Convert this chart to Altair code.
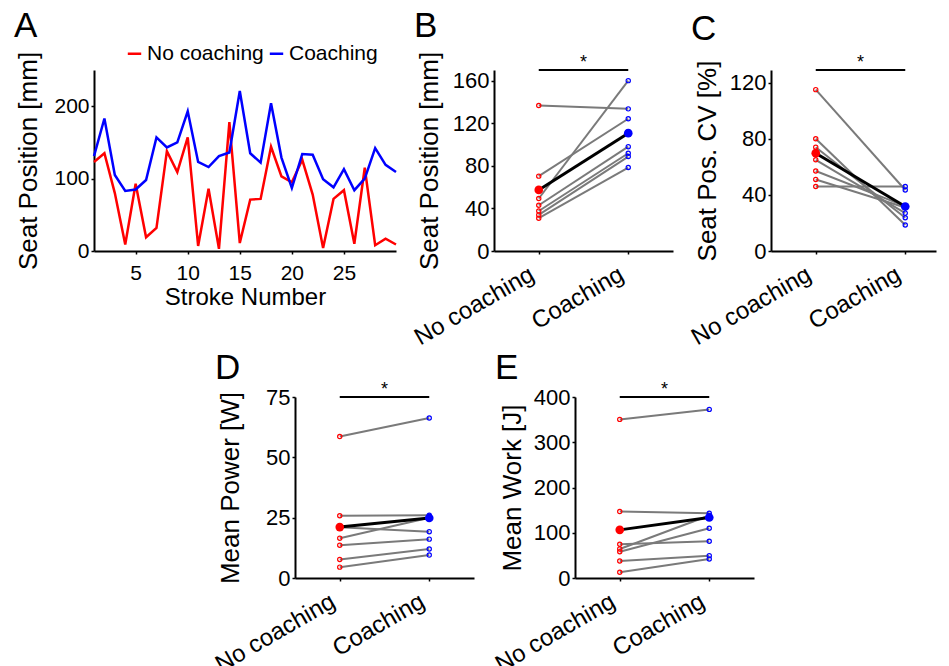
import altair as alt
import pandas as pd

FONT = "Liberation Sans"

# ---------------- data ----------------
strokes = list(range(1, 31))
no_coaching = [123, 135, 80, 9, 93, 19, 32, 138, 109, 157, 7, 86, 3, 178, 11,
               71, 72, 144, 103, 95, 126, 78, 4, 72, 84, 10, 115, 8, 17, 9]
coaching = [131, 183, 105, 83, 85, 98, 157, 143, 150, 193, 123, 116, 131, 136, 221,
            135, 122, 204, 129, 87, 134, 133, 99, 88, 113, 84, 100, 142, 119, 109]

groups = ["No coaching", "Coaching"]

seat_pre = [136.6, 70.3, 49.3, 43.0, 37.6, 33.9, 30.8]
seat_post = [133.5, 124.2, 160.0, 98.0, 91.8, 88.7, 78.4]

cv_pre = [115.0, 80.0, 74.0, 65.0, 57.0, 51.0, 46.0]
cv_post = [43.5, 18.5, 23.7, 27.0, 32.0, 31.0, 46.0]

power_pre = [58.6, 25.8, 21.0, 16.5, 13.6, 7.7, 4.5]
power_post = [66.3, 26.0, 19.2, 25.0, 16.1, 12.0, 9.5]

work_pre = [350.5, 146.8, 74.6, 64.2, 58.2, 37.6, 12.6]
work_post = [372.6, 143.2, 81.2, 138.0, 110.0, 49.4, 42.0]

RED = "#ff0000"
BLUE = "#0000ff"
GRAY = "#7a7a7a"

AXIS_COMMON = dict(
    domainColor="black", domainWidth=2, tickColor="black", tickWidth=1.5,
    tickSize=3, grid=False, labelFont=FONT, titleFont=FONT,
    labelColor="black", titleColor="black", titleFontWeight="normal",
)

NO_FRAME = alt.ViewBackground(stroke="transparent")


def letter_title(letter, dy):
    return alt.TitleParams(letter, anchor="start", frame="group", dx=-80, dy=dy,
                           font=FONT, fontSize=35, fontWeight="normal",
                           color="black", baseline="alphabetic", offset=0)


# ---------------- panel A ----------------
dfa = pd.DataFrame({
    "stroke": strokes * 2,
    "value": no_coaching + coaching,
    "series": [groups[0]] * len(strokes) + [groups[1]] * len(strokes),
})

panel_a = alt.Chart(dfa).mark_line(strokeWidth=2.5).encode(
    x=alt.X("stroke:Q", scale=alt.Scale(domain=[1, 30], nice=False, zero=False),
            axis=alt.Axis(values=[5, 10, 15, 20, 25], title="Stroke Number",
                          labelFontSize=21, titleFontSize=24, labelPadding=8,
                          titlePadding=2, **AXIS_COMMON)),
    y=alt.Y("value:Q", scale=alt.Scale(domain=[0, 250], nice=False),
            axis=alt.Axis(values=[0, 100, 200], title="Seat Position [mm]",
                          labelFontSize=21, titleFontSize=26, labelPadding=2,
                          titlePadding=12, **AXIS_COMMON)),
    color=alt.Color("series:N", sort=groups,
                    scale=alt.Scale(domain=groups, range=[RED, BLUE]),
                    legend=alt.Legend(orient="none", legendX=30, legendY=-27,
                                      direction="horizontal", title=None,
                                      symbolType="stroke", symbolStrokeWidth=2.5,
                                      symbolSize=180, labelFontSize=21,
                                      labelFont=FONT, labelColor="black",
                                      columnPadding=0, labelOffset=2)),
    detail="series:N",
).properties(width=302, height=181, title=letter_title("A", 21), view=NO_FRAME)


# ---------------- paired panels ----------------
def paired(pre, post, ymax, yvals, ytitle, letter, width, title_pad, letter_dy):
    rows = []
    for i, (a, b) in enumerate(zip(pre, post)):
        rows.append({"subj": i, "x": 1, "y": a})
        rows.append({"subj": i, "x": 2, "y": b})
    df = pd.DataFrame(rows)
    xmax = 0.5 + width / 89.5
    xs = alt.Scale(domain=[0.5, xmax], nice=False, zero=False)
    ys = alt.Scale(domain=[0, ymax], nice=False)
    xaxis = alt.Axis(values=[1, 2],
                     labelExpr=f"datum.value == 1 ? '{groups[0]}' : '{groups[1]}'",
                     labelAngle=330, labelAlign="right", labelBaseline="top",
                     labelFontSize=24, labelPadding=8, labelOffset=-13,
                     title=None, **AXIS_COMMON)
    yaxis = alt.Axis(values=yvals, title=ytitle, labelFontSize=22,
                     titleFontSize=26, labelPadding=2, titlePadding=title_pad,
                     **AXIS_COMMON)
    X = alt.X("x:Q", scale=xs, axis=xaxis)
    Y = alt.Y("y:Q", scale=ys, axis=yaxis)
    YM = alt.Y("mean(y):Q", scale=ys, axis=yaxis)
    base = alt.Chart(df)
    lines = base.mark_line(color=GRAY, strokeWidth=2).encode(x=X, y=Y, detail="subj:N")
    pts_pre = base.transform_filter("datum.x == 1").mark_point(
        shape="circle", filled=False, size=18, strokeWidth=1.2, color=RED, opacity=1
    ).encode(x=X, y=Y)
    pts_post = base.transform_filter("datum.x == 2").mark_point(
        shape="circle", filled=False, size=18, strokeWidth=1.2, color=BLUE, opacity=1
    ).encode(x=X, y=Y)
    mean_line = base.mark_line(color="black", strokeWidth=3).encode(x=X, y=YM)
    mean_pre = base.transform_filter("datum.x == 1").mark_circle(
        size=75, color=RED, opacity=1).encode(x=X, y=YM)
    mean_post = base.transform_filter("datum.x == 2").mark_circle(
        size=75, color=BLUE, opacity=1).encode(x=X, y=YM)
    sig_df = pd.DataFrame({"x1": [1], "x2": [2], "y": [ymax], "xm": [1.5], "t": ["*"]})
    sig = alt.Chart(sig_df).mark_rule(color="black", strokeWidth=2).encode(
        x=alt.X("x1:Q", scale=xs, axis=xaxis), x2="x2:Q",
        y=alt.Y("y:Q", scale=ys, axis=yaxis))
    star = alt.Chart(sig_df).mark_text(font=FONT, fontSize=18, baseline="alphabetic",
                                       dy=-2, color="black").encode(
        x=alt.X("xm:Q", scale=xs, axis=xaxis), y=alt.Y("y:Q", scale=ys, axis=yaxis),
        text="t:N")
    return alt.layer(lines, pts_pre, pts_post, mean_line, mean_pre, mean_post,
                     sig, star).properties(width=width, height=181,
                                           title=letter_title(letter, letter_dy),
                                           view=NO_FRAME)


panel_b = paired(seat_pre, seat_post, 170, [0, 40, 80, 120, 160],
                 "Seat Position [mm]", "B", 179, 10, 21)
panel_c = paired(cv_pre, cv_post, 129, [0, 40, 80, 120],
                 "Seat Pos. CV [%]", "C", 165, 9, 21)
panel_d = paired(power_pre, power_post, 75, [0, 25, 50, 75],
                 "Mean Power [W]", "D", 179, 22, 33)
panel_e = paired(work_pre, work_post, 400, [0, 100, 200, 300, 400],
                 "Mean Work [J]", "E", 179, 8, 33)

spacer = alt.Chart(pd.DataFrame({"v": [0]})).mark_point(opacity=0).encode(
    x=alt.X("v:Q", axis=None), y=alt.Y("v:Q", axis=None)
).properties(width=100, height=181, view=NO_FRAME)

top = alt.hconcat(panel_a, panel_b, panel_c, spacing=98, bounds="flush")
bottom = alt.hconcat(spacer, panel_d, panel_e, spacing=101, bounds="flush")

chart = alt.vconcat(top, bottom, spacing=327, bounds="flush").properties(
    padding={"left": 5, "top": 0, "right": 0, "bottom": 0}
).configure(font=FONT, background="white",
            view=alt.ViewConfig(stroke="transparent"))

chart.save("out.html", embed_options={"renderer": "svg", "actions": False})
